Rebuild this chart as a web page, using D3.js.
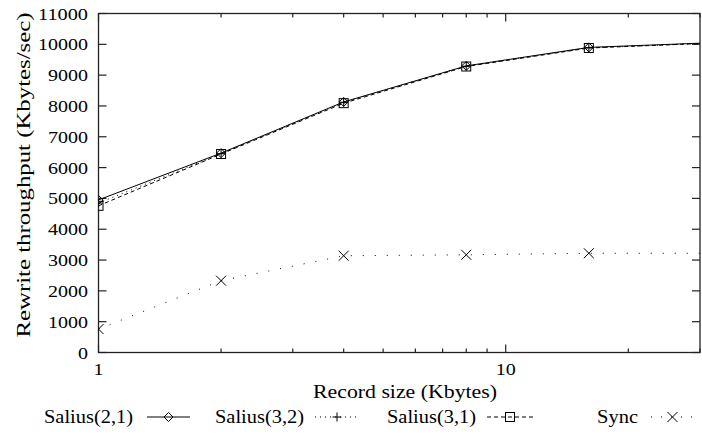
<!DOCTYPE html>
<html>
<head>
<meta charset="utf-8">
<script src="https://cdn.jsdelivr.net/npm/d3@7"></script>
<style>
  body { margin: 0; background: #fff; }
  svg text { font-family: 'Liberation Serif'; }
</style>
</head>
<body>
<script>
// record sizes (Kbytes) and rewrite throughput (Kbytes/sec)
var recordSizes = [1, 2, 4, 8, 16, 32];
var salius21 = [4950, 6470, 8130, 9300, 9900, 10050];
var salius32 = [4850, 6450, 8120, 9290, 9890, 10040];
var salius31 = [4760, 6440, 8090, 9280, 9880, 10040];
var sync = [760, 2330, 3140, 3170, 3220, 3220];

var seriesNames = ['Salius(2,1)', 'Salius(3,2)', 'Salius(3,1)', 'Sync'];
var yTicks = d3.range(0, 11001, 1000);
var xMajor = [1, 10];
var xMinor = [2, 3, 4, 5, 6, 7, 8, 9, 20, 30];

var width = 702, height = 440;
var pl = 98.5, pr = 700, pt = 13.5, pb = 352.5;
var serif = "'Liberation Serif'";

var x = d3.scaleLog().domain([1, 30]).range([pl, pr]);
var y = d3.scaleLinear().domain([0, 11000]).range([pb, pt]);

var svg = d3.select('body').append('svg')
  .attr('width', width)
  .attr('height', height);

svg.append('clipPath').attr('id', 'plot')
  .append('rect')
  .attr('x', pl).attr('y', pt - 6)
  .attr('width', pr - pl).attr('height', pb - pt + 6);

// frame
svg.append('rect')
  .attr('x', pl).attr('y', pt)
  .attr('width', pr - pl).attr('height', pb - pt)
  .attr('fill', 'none').attr('stroke', '#222').attr('stroke-width', 1.3);

// y ticks, both sides pointing in
var yt = svg.append('g').attr('stroke', '#222').attr('stroke-width', 1.2);
yTicks.forEach(function(d) {
  yt.append('line').attr('x1', pl).attr('x2', pl + 8).attr('y1', y(d)).attr('y2', y(d));
  yt.append('line').attr('x1', pr).attr('x2', pr - 8).attr('y1', y(d)).attr('y2', y(d));
});
svg.selectAll('.ylab').data(yTicks).enter().append('text')
  .attr('x', 88)
  .attr('y', function(d) { return y(d) + 6; })
  .attr('text-anchor', 'end')
  .style('font-family', serif)
  .style('font-size', '17px')
  .attr('textLength', function(d) { return String(d).length * 10; })
  .attr('lengthAdjust', 'spacingAndGlyphs')
  .text(function(d) { return d; });

// x ticks (log), bottom and top
var xt = svg.append('g').attr('stroke', '#222').attr('stroke-width', 1.2);
xMajor.concat(xMinor).forEach(function(d) {
  var len = xMajor.indexOf(d) >= 0 ? 8 : 4;
  xt.append('line').attr('x1', x(d)).attr('x2', x(d)).attr('y1', pb).attr('y2', pb - len);
  xt.append('line').attr('x1', x(d)).attr('x2', x(d)).attr('y1', pt).attr('y2', pt + len);
});
svg.selectAll('.xlab').data(xMajor).enter().append('text')
  .attr('x', function(d) { return x(d); })
  .attr('y', 375)
  .attr('text-anchor', 'middle')
  .style('font-family', serif)
  .style('font-size', '17px')
  .attr('textLength', function(d) { return String(d).length * 10; })
  .attr('lengthAdjust', 'spacingAndGlyphs')
  .text(function(d) { return d; });

// axis titles
svg.append('text')
  .attr('x', 405).attr('y', 398)
  .attr('text-anchor', 'middle')
  .style('font-family', serif)
  .style('font-size', '19px')
  .attr('textLength', 184)
  .attr('lengthAdjust', 'spacingAndGlyphs')
  .text('Record size (Kbytes)');

svg.append('text')
  .attr('transform', 'translate(30,175) rotate(-90)')
  .attr('text-anchor', 'middle')
  .style('font-family', serif)
  .style('font-size', '19px')
  .attr('textLength', 325)
  .attr('lengthAdjust', 'spacingAndGlyphs')
  .text('Rewrite throughput (Kbytes/sec)');

// series
var series = [
  { name: seriesNames[0], values: salius21, dash: null, marker: 'diamond' },
  { name: seriesNames[1], values: salius32, dash: '1,4', marker: 'plus' },
  { name: seriesNames[2], values: salius31, dash: '4,3', marker: 'square' },
  { name: seriesNames[3], values: sync, dash: '1,11', marker: 'cross' }
];

function drawMarker(g, type, cx, cy) {
  var m = g.append('g').attr('transform', 'translate(' + cx + ',' + cy + ')')
    .attr('fill', 'none').attr('stroke', '#000').attr('stroke-width', 1);
  if (type === 'diamond') m.append('path').attr('d', 'M0,-4.5L4.5,0L0,4.5L-4.5,0Z');
  if (type === 'plus') m.append('path').attr('d', 'M-4.5,0H4.5M0,-4.5V4.5');
  if (type === 'square') m.append('rect').attr('x', -4.5).attr('y', -4.5).attr('width', 9).attr('height', 9);
  if (type === 'cross') m.append('path').attr('d', 'M-5,-5L5,5M-5,5L5,-5');
}

var line = d3.line()
  .x(function(d, i) { return x(recordSizes[i]); })
  .y(function(d) { return y(d); });

var plot = svg.append('g').attr('clip-path', 'url(#plot)');
series.forEach(function(s) {
  plot.append('path')
    .attr('d', line(s.values))
    .attr('fill', 'none')
    .attr('stroke', '#000')
    .attr('stroke-width', 1)
    .attr('stroke-dasharray', s.dash);
  s.values.forEach(function(v, i) {
    drawMarker(plot, s.marker, x(recordSizes[i]), y(v));
  });
});

// legend
var legendText = [133, 304, 476, 638];
var legendSample = [[147, 190], [315, 359], [487, 533], [651, 694]];
series.forEach(function(s, i) {
  svg.append('text')
    .attr('x', legendText[i]).attr('y', 423)
    .attr('text-anchor', 'end')
    .style('font-family', serif)
    .style('font-size', '19px')
    .attr('textLength', s.name.length === 4 ? 41 : 89)
    .attr('lengthAdjust', 'spacingAndGlyphs')
    .text(s.name);
  var x0 = legendSample[i][0], x1 = legendSample[i][1];
  svg.append('line')
    .attr('x1', x0).attr('x2', x1).attr('y1', 417).attr('y2', 417)
    .attr('stroke', '#000').attr('stroke-width', 1)
    .attr('stroke-dasharray', s.dash === '1,11' ? '1,9' : s.dash);
  drawMarker(svg, s.marker, (x0 + x1) / 2, 417);
});
</script>
</body>
</html>
